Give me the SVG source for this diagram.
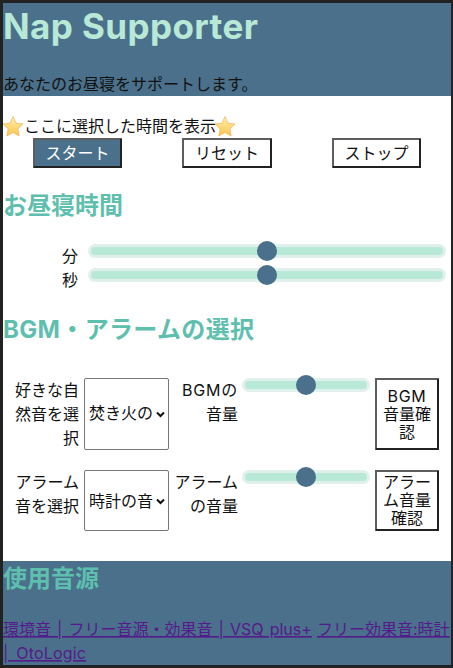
<svg xmlns="http://www.w3.org/2000/svg" width="453" height="668" viewBox="0 0 453 668">
<style>
text{font-family:"Inter","Noto Sans CJK JP",sans-serif;font-size:16px;fill:#111}
.h{font-weight:700;font-size:24px;fill:#5fbfae}
.r{text-anchor:end}
.c{text-anchor:middle}
.tr{fill:#e0f0ec}
.ti{fill:#b8e8d6}
.th{fill:#4a708b}
.sel{fill:#fff;stroke:#767676;stroke-width:1}
.bt{fill:#fff;stroke:#5e5e5e;stroke-width:2}
.bb{fill:none;stroke:#222;stroke-width:2}
.l{fill:#551a8b;text-decoration:underline}
</style>
<defs>
<linearGradient id="sg" x1="0" y1="0" x2="0" y2="1"><stop offset="0" stop-color="#fff2b0"/><stop offset="1" stop-color="#fcc44e"/></linearGradient>
<polygon id="star" points="10,0 13,6.700 20,7.500 14.800,12.400 16.200,19.500 10,16 3.800,19.500 5.200,12.400 0,7.500 7,6.700" fill="url(#sg)" stroke="#f0b050" stroke-width="0.700" stroke-linejoin="round"/>
</defs>
<rect width="453" height="668" fill="#222"/>
<rect x="3" y="3" width="448" height="662" fill="#fff"/>
<g id="header">
<rect x="3" y="3" width="448" height="93" fill="#4a708b"/>
<text x="3" y="39" style="font-size:35px;font-weight:700;fill:#b8e8d6;letter-spacing:.4px">Nap Supporter</text>
<text x="3" y="90">あなたのお昼寝をサポートします。</text>
</g>
<g id="timer">
<use href="#star" x="3" y="116.500"/>
<text x="24" y="132">ここに選択した時間を表示</text>
<use href="#star" x="215" y="116.500"/>
</g>
<g id="btn-start">
<rect x="34" y="139" width="87" height="28" fill="#4a708b" stroke="#5e5e5e" stroke-width="2"/>
<path class="bb" d="M121 139V167H34"/>
<text x="77.500" y="158.500" class="c" style="fill:#fff">スタート</text>
</g>
<g id="btn-reset">
<rect class="bt" x="183" y="139" width="88" height="28"/>
<path class="bb" d="M271 139V167H183"/>
<text x="227" y="158.500" class="c">リセット</text>
</g>
<g id="btn-stop">
<rect class="bt" x="333" y="139" width="87" height="28"/>
<path class="bb" d="M420 139V167H333"/>
<text x="376.500" y="158.500" class="c">ストップ</text>
</g>
<g id="nap-time">
<text x="3" y="214" class="h">お昼寝時間</text>
</g>
<g id="slider-min">
<text x="78" y="262" class="r">分</text>
<rect class="tr" x="88" y="244" width="358" height="14" rx="7"/>
<rect class="ti" x="91" y="247" width="352" height="8" rx="4"/>
<circle class="th" cx="267" cy="251" r="10"/>
</g>
<g id="slider-sec">
<text x="78" y="286" class="r">秒</text>
<rect class="tr" x="88" y="268" width="358" height="14" rx="7"/>
<rect class="ti" x="91" y="271" width="352" height="8" rx="4"/>
<circle class="th" cx="267" cy="275" r="10"/>
</g>
<g id="bgm-heading">
<text x="3" y="338" class="h" style="letter-spacing:.35px">BGM・アラームの選択</text>
</g>
<g id="bgm-select">
<text x="79" y="396" class="r">好きな自</text>
<text x="79" y="420" class="r">然音を選</text>
<text x="79" y="444" class="r">択</text>
<rect class="sel" x="84.500" y="378.500" width="84" height="71" rx="1.500"/>
<text x="89" y="419">焚き火の</text>
<path d="M157 412.500l3.500 3.500 3.500-3.500" fill="none" stroke="#111" stroke-width="2"/>
</g>
<g id="bgm-volume">
<text x="238" y="396" class="r" style="letter-spacing:.8px">BGMの</text>
<text x="238" y="420" class="r">音量</text>
<rect class="tr" x="242" y="378" width="128" height="14" rx="7"/>
<rect class="ti" x="245" y="381" width="122" height="8" rx="4"/>
<circle class="th" cx="306" cy="385" r="10"/>
</g>
<g id="btn-bgm">
<rect class="bt" x="376" y="379" width="62" height="70"/>
<path class="bb" d="M438 379V449H376"/>
<text x="407" y="402" class="c" style="letter-spacing:.7px">BGM</text>
<text x="407" y="420" class="c">音量確</text>
<text x="407" y="438" class="c">認</text>
</g>
<g id="alarm-select">
<text x="79" y="488" class="r">アラーム</text>
<text x="79" y="512" class="r">音を選択</text>
<rect class="sel" x="84.500" y="470.500" width="84" height="60" rx="1.500"/>
<text x="89" y="507">時計の音</text>
<path d="M157 499.500l3.500 3.500 3.500-3.500" fill="none" stroke="#111" stroke-width="2"/>
</g>
<g id="alarm-volume">
<text x="238" y="488" class="r">アラーム</text>
<text x="238" y="512" class="r">の音量</text>
<rect class="tr" x="242" y="470" width="128" height="14" rx="7"/>
<rect class="ti" x="245" y="473" width="122" height="8" rx="4"/>
<circle class="th" cx="306" cy="477" r="10"/>
</g>
<g id="btn-alarm">
<rect class="bt" x="376" y="471" width="62" height="59"/>
<path class="bb" d="M438 471V530H376"/>
<text x="407" y="488" class="c">アラー</text>
<text x="407" y="506" class="c">ム音量</text>
<text x="407" y="524" class="c">確認</text>
</g>
<g id="footer">
<rect x="3" y="561" width="448" height="104" fill="#4a708b"/>
<text x="3" y="587" class="h">使用音源</text>
<text x="3" y="635" class="l" style="word-spacing:1.600px">環境音 | フリー音源・効果音 | VSQ plus+</text>
<text x="317" y="635" class="l">フリー効果音:時計</text>
<text x="3" y="659" class="l" style="word-spacing:3px;letter-spacing:.2px">| OtoLogic</text>
</g>
<g id="connectors"/>
</svg>
